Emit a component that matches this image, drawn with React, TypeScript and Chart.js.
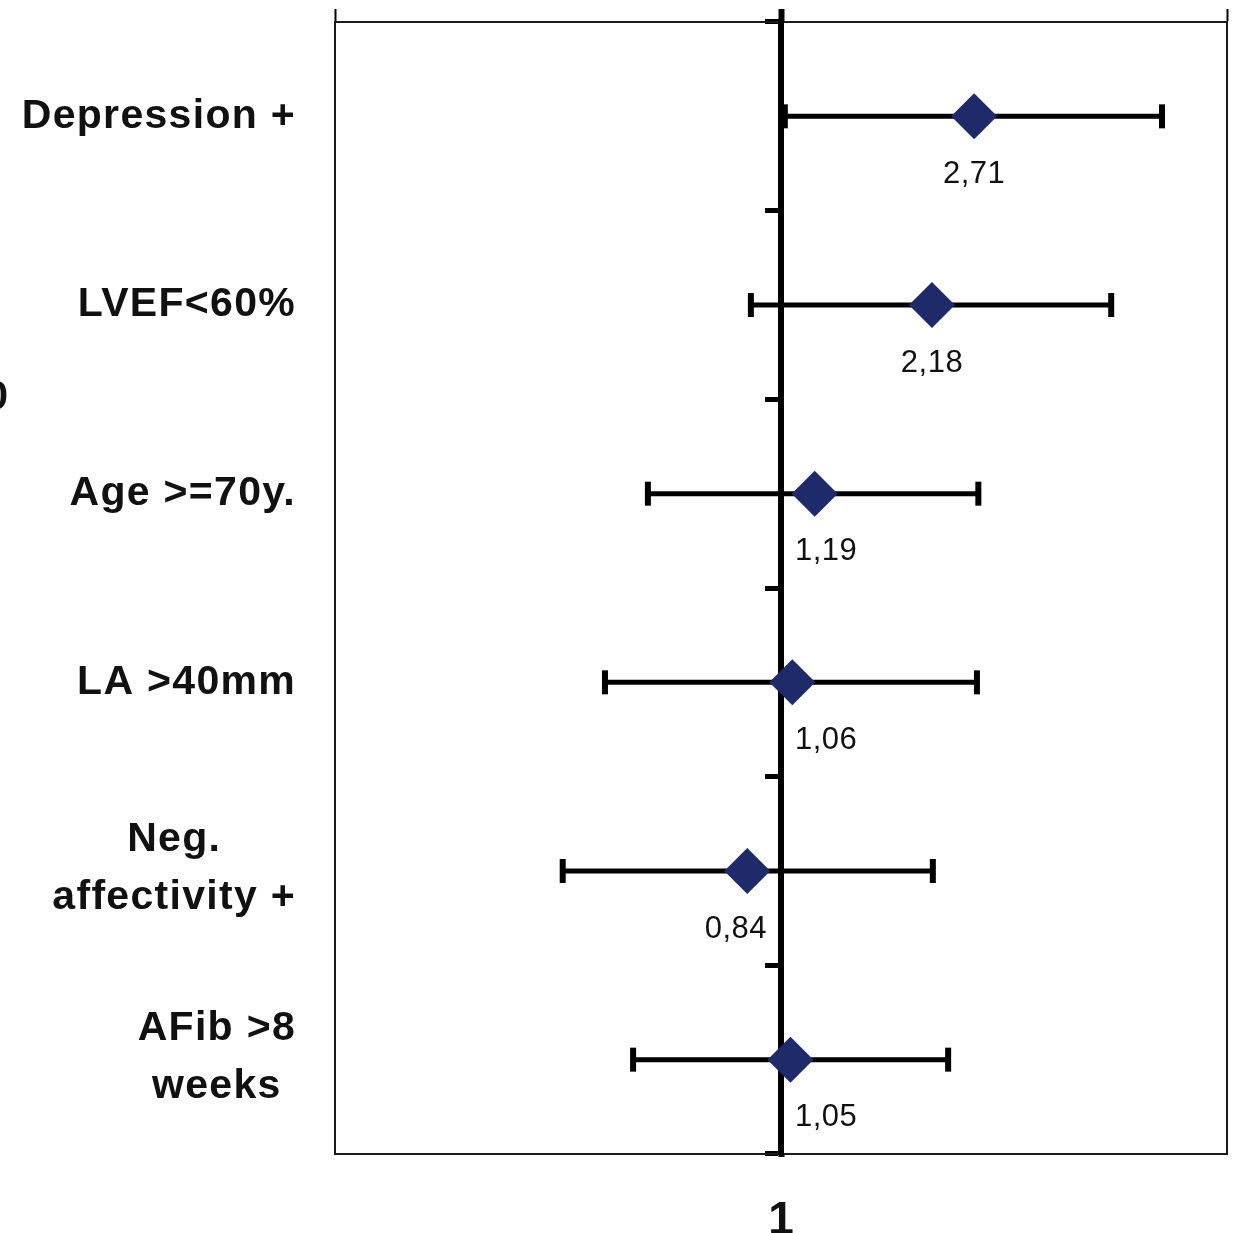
import React, { useEffect, useRef } from 'react';
import { Chart, registerables } from 'chart.js';

Chart.register(...registerables);

// ---- data ----
const categories = ['Depression +', 'LVEF<60%', 'Age >=70y.', 'LA >40mm', 'Neg. affectivity +', 'AFib >8 weeks'];
const categoryLines = [['Depression +'], ['LVEF<60%'], ['Age >=70y.'], ['LA >40mm'], ['Neg.', 'affectivity +'], ['AFib >8', 'weeks']];
const oddsRatios = [2.71, 2.18, 1.19, 1.06, 0.84, 1.05];
const ciLower = [1.02, 0.856, 0.503, 0.403, 0.324, 0.466];
const ciUpper = [7.15, 5.5, 2.77, 2.75, 2.19, 2.37];
const frameTicks = [0.1, 1, 10];
const labelTicks = [1];
const referenceValue = 1;
const xMin = 0.1;
const xMax = 10;
const edgeFragment = '0';

const CANVAS_W = 1235;
const CANVAS_H = 1260;
const NAVY = '#1f2a6b';
const INK = '#111111';
const LINE = '#1a1a1a';

const fmt = (v: number) => v.toFixed(2).replace('.', ',');

const zeroPad = (s: any) => {
  s.paddingLeft = 0;
  s.paddingRight = 0;
  s.paddingTop = 0;
  s.paddingBottom = 0;
};

const textPlugin = {
  id: 'forestText',
  afterDraw(chart: any) {
    const { ctx, scales } = chart;
    const xs = scales.x;
    const ys = scales.y;
    ctx.save();
    ctx.fillStyle = INK;
    ctx.textBaseline = 'middle';

    // category labels (left)
    ctx.font = 'bold 41px "Liberation Sans", Arial, sans-serif';
    (ctx as any).letterSpacing = '1.3px';
    ctx.textAlign = 'center';
    categoryLines.forEach((lines, i) => {
      const cy = ys.getPixelForValue(i);
      const widths = lines.map((l) => ctx.measureText(l).width);
      const bw = Math.max(...widths);
      const cx = 296 - bw / 2;
      lines.forEach((l, k) => {
        const dy = (k - (lines.length - 1) / 2) * 58 - (lines.length > 1 ? 2 : 0);
        ctx.fillText(l, cx, cy + dy);
      });
    });

    // value labels under diamonds
    ctx.font = '31px "Liberation Sans", Arial, sans-serif';
    (ctx as any).letterSpacing = '0.5px';
    ctx.textAlign = 'left';
    const axisPx = xs.getPixelForValue(referenceValue);
    const gap = 14;
    oddsRatios.forEach((v, i) => {
      const txt = fmt(v);
      const w = ctx.measureText(txt).width;
      const px = xs.getPixelForValue(v);
      const py = ys.getPixelForValue(i) + 58;
      let left = px - w / 2;
      if (v >= referenceValue && left < axisPx + gap) left = axisPx + gap;
      if (v < referenceValue && left + w > axisPx - gap) left = axisPx - gap - w;
      ctx.fillText(txt, left, py);
    });

    // cut-off fragment at left edge
    ctx.font = 'bold 41px "Liberation Sans", Arial, sans-serif';
    (ctx as any).letterSpacing = '0px';
    ctx.textAlign = 'right';
    ctx.fillText(edgeFragment, 8, 398);
    ctx.restore();
  },
};

export default function App() {
  const ref = useRef<HTMLCanvasElement | null>(null);

  useEffect(() => {
    if (!ref.current) return;
    const datasets: any[] = [
      {
        label: 'OR',
        data: oddsRatios.map((v, i) => ({ x: v, y: categories[i] })),
        pointStyle: 'rectRot',
        pointRadius: 23,
        pointHoverRadius: 23,
        backgroundColor: NAVY,
        pointBackgroundColor: NAVY,
        pointBorderWidth: 0,
        borderWidth: 0,
        showLine: false,
      },
      ...categories.map((c, i) => ({
        label: 'CI ' + c,
        data: [
          { x: ciLower[i], y: c },
          { x: ciUpper[i], y: c },
        ],
        showLine: true,
        borderColor: '#000',
        borderWidth: 5,
        pointStyle: 'line',
        pointRotation: 90,
        pointRadius: 12,
        pointHoverRadius: 12,
        pointBorderWidth: 6,
        pointBorderColor: '#000',
        pointBackgroundColor: '#000',
      })),
    ];

    const chart = new Chart(ref.current, {
      type: 'scatter',
      data: { datasets },
      plugins: [textPlugin],
      options: {
        responsive: false,
        maintainAspectRatio: false,
        animation: false,
        devicePixelRatio: 1,
        layout: { autoPadding: false, padding: { left: 0, right: 8, top: 0, bottom: 0 } },
        plugins: { legend: { display: false }, tooltip: { enabled: false } },
        scales: {
          x: {
            type: 'logarithmic',
            position: 'bottom',
            min: xMin,
            max: xMax,
            afterBuildTicks: (s: any) => {
              s.ticks = labelTicks.map((v) => ({ value: v }));
            },
            afterFit: (s: any) => {
              s.height = CANVAS_H - 1154;
              zeroPad(s);
            },
            ticks: {
              color: INK,
              padding: 37,
              font: { family: '"Liberation Sans", Arial, sans-serif', size: 46, weight: 'bold' },
              callback: (v: any) => String(v),
              maxRotation: 0,
              autoSkip: false,
            },
            grid: {
              drawOnChartArea: false,
              drawTicks: true,
              tickLength: 3,
              tickWidth: 6,
              tickColor: '#000',
              color: '#000',
            },
            border: { display: true, width: 2, color: LINE },
          },
          xt: {
            type: 'logarithmic',
            position: 'top',
            min: xMin,
            max: xMax,
            afterBuildTicks: (s: any) => {
              s.ticks = frameTicks.map((v) => ({ value: v }));
            },
            afterFit: (s: any) => {
              s.height = 22;
              zeroPad(s);
            },
            ticks: { display: false },
            grid: {
              drawOnChartArea: false,
              drawTicks: true,
              tickLength: 13,
              tickColor: '#000',
              color: LINE,
              tickWidth: (c: any) => (c.tick && c.tick.value === referenceValue ? 6 : 2),
            },
            border: { display: true, width: 2, color: LINE },
          },
          y: {
            type: 'category',
            labels: categories,
            position: 'left',
            offset: true,
            afterFit: (s: any) => {
              s.width = 335;
              zeroPad(s);
            },
            ticks: { display: false },
            grid: { display: false },
            border: { display: true, width: 2, color: LINE },
          },
          yc: {
            type: 'category',
            labels: categories,
            position: { x: referenceValue },
            offset: true,
            afterFit: (s: any) => {
              s.width = 0;
              zeroPad(s);
            },
            ticks: { display: false },
            grid: {
              offset: true,
              drawOnChartArea: false,
              drawTicks: true,
              tickLength: 13,
              tickWidth: 5,
              tickColor: '#000',
              color: '#000',
            },
            border: { display: true, width: 6, color: '#000' },
          },
          yr: {
            type: 'linear',
            position: 'right',
            min: 0,
            max: 1,
            afterFit: (s: any) => {
              s.width = 0;
              zeroPad(s);
            },
            ticks: { display: false },
            grid: { display: false },
            border: { display: true, width: 2, color: LINE },
          },
        },
      } as any,
    });
    return () => chart.destroy();
  }, []);

  return (
    <div
      style={{
        position: 'fixed',
        left: 0,
        top: 0,
        width: CANVAS_W,
        height: 1233,
        overflow: 'hidden',
        background: '#fff',
      }}
    >
      <canvas ref={ref} width={CANVAS_W} height={CANVAS_H} style={{ display: 'block' }} />
    </div>
  );
}
